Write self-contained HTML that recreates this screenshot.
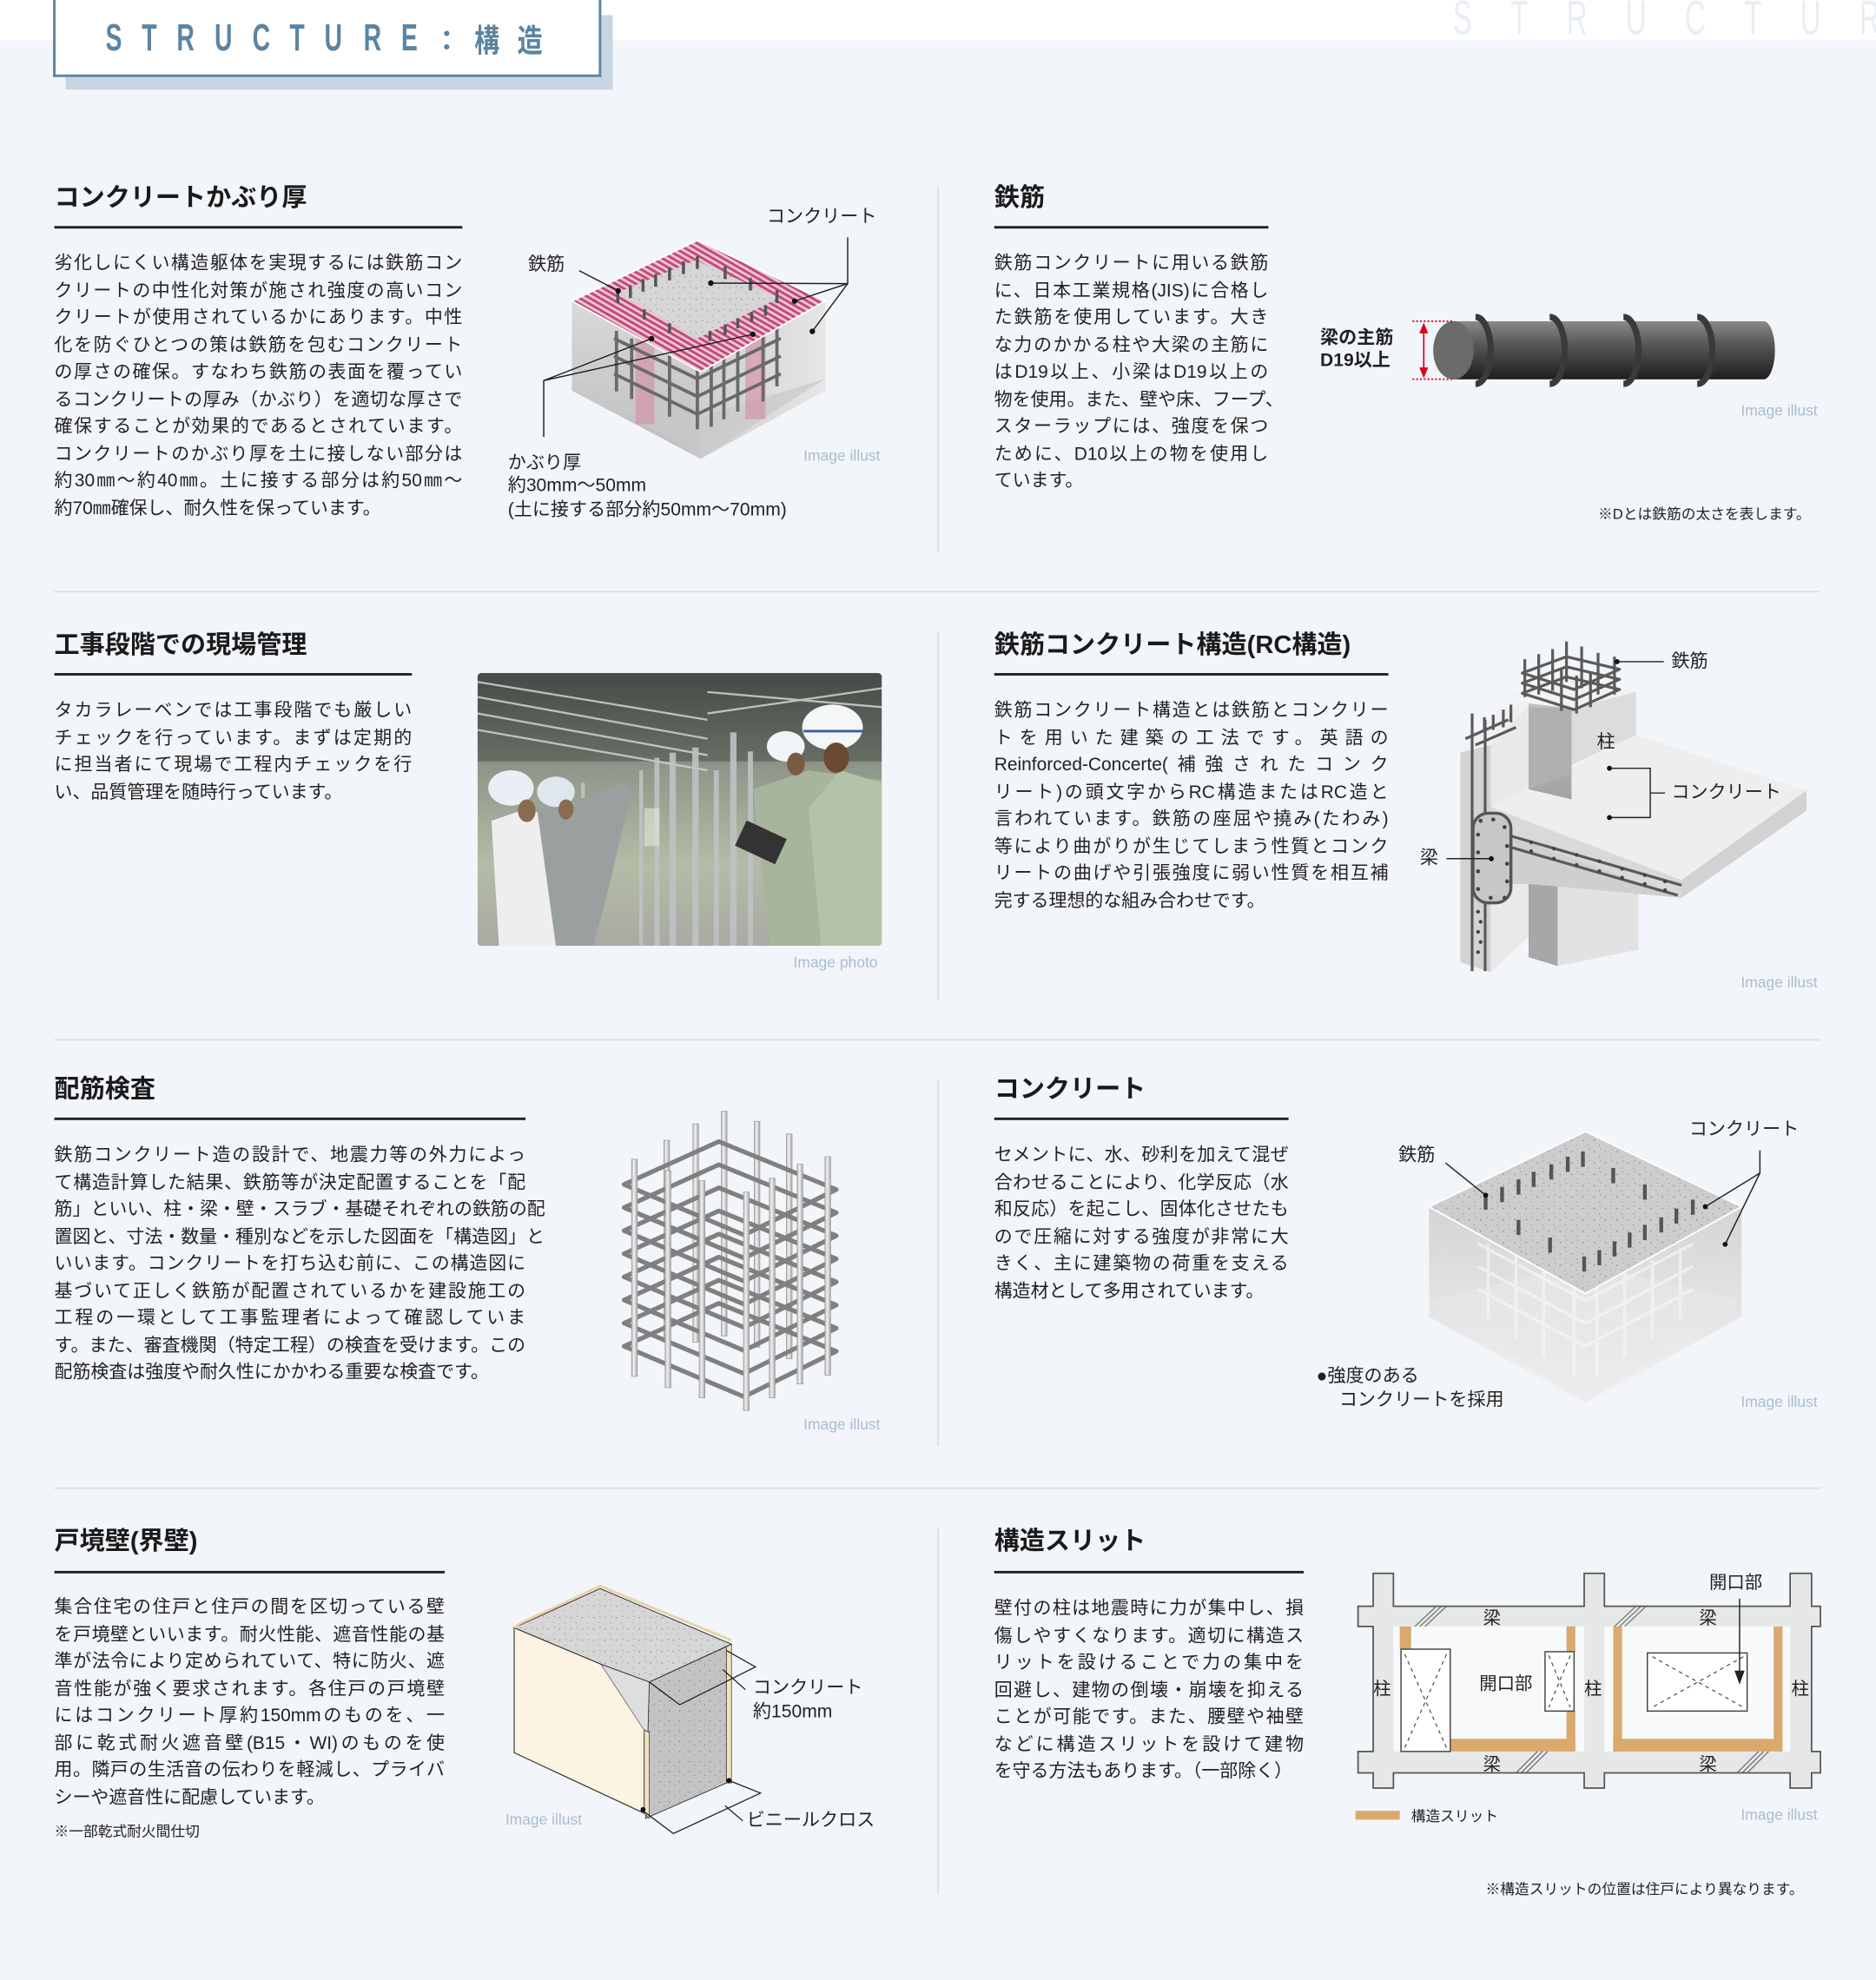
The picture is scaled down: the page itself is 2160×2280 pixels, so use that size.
<!DOCTYPE html>
<html><head><meta charset="utf-8">
<style>
html,body{margin:0;padding:0;background:#f2f5f9;}
body{width:2160px;height:2280px;overflow:hidden;position:relative;}
#stage{position:absolute;left:0;top:0;width:1485px;height:1568px;transform:scale(1.45455,1.4541);transform-origin:0 0;background:#f2f5f9;font-family:"Liberation Sans","Noto Sans CJK JP",sans-serif;color:#222;}
.abs{position:absolute;}
.h{position:absolute;font-size:20px;font-weight:bold;line-height:24px;white-space:nowrap;color:#1a1a1a;}
.ul{position:absolute;height:2px;background:#222;}
.tx{position:absolute;font-size:14.4px;line-height:21.5px;color:#222;}
.tx div{white-space:nowrap;text-align:justify;text-align-last:justify;}
.tx div.l{text-align-last:left;}
.lab{position:absolute;font-size:14.5px;line-height:19px;white-space:nowrap;color:#222;z-index:3;}
.ii{position:absolute;font-size:12px;color:#a9bdd0;white-space:nowrap;z-index:3;}
.note{position:absolute;font-size:11.5px;white-space:nowrap;color:#222;z-index:3;}
.vd{position:absolute;left:742px;width:1px;background:#d3dbe4;}
.hd{position:absolute;left:43px;width:1398px;height:1px;background:#d6dde5;}
svg.abs{z-index:1;}
</style></head><body><div id="stage">
<div class="abs" style="left:0;top:0;width:1485px;height:32px;background:#fff;"></div>
<div class="abs" style="left:1150px;top:-4px;height:38px;display:flex;justify-content:space-between;font-size:38px;line-height:38px;color:#e9eef4;font-family:'Liberation Sans',sans-serif;transform:scaleX(0.6);transform-origin:0 0;width:640px;">
<span>S</span><span>T</span><span>R</span><span>U</span><span>C</span><span>T</span><span>U</span><span>R</span><span>E</span></div>
<div class="abs" style="left:52px;top:12px;width:433px;height:59px;background:#c8d5e1;"></div>
<div class="abs" style="left:42px;top:0;width:430px;height:59px;background:#fff;border:2px solid #5b84a3;border-top:none;"></div>
<div class="abs" style="left:80px;top:12px;width:352px;height:38px;display:flex;justify-content:space-between;align-items:center;font-size:30px;font-weight:bold;color:#5b84a3;">
<span style="display:inline-block;transform:scaleX(0.65)">S</span><span style="display:inline-block;transform:scaleX(0.65)">T</span><span style="display:inline-block;transform:scaleX(0.65)">R</span><span style="display:inline-block;transform:scaleX(0.65)">U</span><span style="display:inline-block;transform:scaleX(0.65)">C</span><span style="display:inline-block;transform:scaleX(0.65)">T</span><span style="display:inline-block;transform:scaleX(0.65)">U</span><span style="display:inline-block;transform:scaleX(0.65)">R</span><span style="display:inline-block;transform:scaleX(0.65)">E</span><span style="font-size:22px">：</span><span style="font-size:25px;display:inline-block;transform:scaleX(0.8)">構</span><span style="font-size:25px;display:inline-block;transform:scaleX(0.8)">造</span></div>

<div class="vd" style="top:148px;height:290px"></div>
<div class="vd" style="top:500px;height:292px"></div>
<div class="vd" style="top:855px;height:290px"></div>
<div class="vd" style="top:1210px;height:290px"></div>
<div class="hd" style="top:468px"></div>
<div class="hd" style="top:823px"></div>
<div class="hd" style="top:1178px"></div>

<div class="h" style="left:43px;top:145px">コンクリートかぶり厚</div>
<div class="ul" style="left:43px;top:179px;width:323px"></div>
<div class="tx" style="left:43px;top:199px;width:323px">
<div>劣化しにくい構造躯体を実現するには鉄筋コン</div>
<div>クリートの中性化対策が施され強度の高いコン</div>
<div>クリートが使用されているかにあります。中性</div>
<div>化を防ぐひとつの策は鉄筋を包むコンクリート</div>
<div>の厚さの確保。すなわち鉄筋の表面を覆ってい</div>
<div>るコンクリートの厚み（かぶり）を適切な厚さで</div>
<div>確保することが効果的であるとされています。</div>
<div>コンクリートのかぶり厚を土に接しない部分は</div>
<div>約30㎜〜約40㎜。土に接する部分は約50㎜〜</div>
<div class="l">約70㎜確保し、耐久性を保っています。</div>
</div>
<div class="lab" style="left:607px;top:163px">コンクリート</div>
<div class="lab" style="left:418px;top:201px">鉄筋</div>
<div class="lab" style="left:402px;top:358px">かぶり厚</div>
<div class="lab" style="left:402px;top:376px">約30mm〜50mm</div>
<div class="lab" style="left:402px;top:395px">(土に接する部分約50mm〜70mm)</div>
<div class="ii" style="left:636px;top:354px">Image illust</div>

<div class="h" style="left:787px;top:145px">鉄筋</div>
<div class="ul" style="left:787px;top:179px;width:217px"></div>
<div class="tx" style="left:787px;top:199px;width:217px">
<div>鉄筋コンクリートに用いる鉄筋</div>
<div>に、日本工業規格(JIS)に合格し</div>
<div>た鉄筋を使用しています。大き</div>
<div>な力のかかる柱や大梁の主筋に</div>
<div>はD19以上、小梁はD19以上の</div>
<div>物を使用。また、壁や床、フープ、</div>
<div>スターラップには、強度を保つ</div>
<div>ために、D10以上の物を使用し</div>
<div class="l">ています。</div>
</div>
<div class="lab" style="left:1045px;top:259px;font-weight:bold;line-height:18px">梁の主筋<br>D19以上</div>
<div class="ii" style="left:1378px;top:318px">Image illust</div>
<div class="note" style="left:1265px;top:399px">※Dとは鉄筋の太さを表します。</div>

<div class="h" style="left:43px;top:499px">工事段階での現場管理</div>
<div class="ul" style="left:43px;top:533px;width:283px"></div>
<div class="tx" style="left:43px;top:553px;width:283px">
<div>タカラレーベンでは工事段階でも厳しい</div>
<div>チェックを行っています。まずは定期的</div>
<div>に担当者にて現場で工程内チェックを行</div>
<div class="l">い、品質管理を随時行っています。</div>
</div>
<div class="ii" style="left:628px;top:755px">Image photo</div>

<div class="h" style="left:787px;top:499px">鉄筋コンクリート構造(RC構造)</div>
<div class="ul" style="left:787px;top:533px;width:312px"></div>
<div class="tx" style="left:787px;top:553px;width:312px">
<div>鉄筋コンクリート構造とは鉄筋とコンクリー</div>
<div>トを用いた建築の工法です。英語の</div>
<div>Reinforced-Concerte(補強されたコンク</div>
<div>リート)の頭文字からRC構造またはRC造と</div>
<div>言われています。鉄筋の座屈や撓み(たわみ)</div>
<div>等により曲がりが生じてしまう性質とコンク</div>
<div>リートの曲げや引張強度に弱い性質を相互補</div>
<div class="l">完する理想的な組み合わせです。</div>
</div>
<div class="lab" style="left:1323px;top:515px">鉄筋</div>
<div class="lab" style="left:1264px;top:579px">柱</div>
<div class="lab" style="left:1323px;top:619px">コンクリート</div>
<div class="lab" style="left:1124px;top:671px">梁</div>
<div class="ii" style="left:1378px;top:771px">Image illust</div>

<div class="h" style="left:43px;top:851px">配筋検査</div>
<div class="ul" style="left:43px;top:885px;width:373px"></div>
<div class="tx" style="left:43px;top:905px;width:373px">
<div>鉄筋コンクリート造の設計で、地震力等の外力によっ</div>
<div>て構造計算した結果、鉄筋等が決定配置することを「配</div>
<div>筋」といい、柱・梁・壁・スラブ・基礎それぞれの鉄筋の配</div>
<div>置図と、寸法・数量・種別などを示した図面を「構造図」と</div>
<div>いいます。コンクリートを打ち込む前に、この構造図に</div>
<div>基づいて正しく鉄筋が配置されているかを建設施工の</div>
<div>工程の一環として工事監理者によって確認していま</div>
<div>す。また、審査機関（特定工程）の検査を受けます。この</div>
<div class="l">配筋検査は強度や耐久性にかかわる重要な検査です。</div>
</div>
<div class="ii" style="left:636px;top:1121px">Image illust</div>

<div class="h" style="left:787px;top:851px">コンクリート</div>
<div class="ul" style="left:787px;top:885px;width:233px"></div>
<div class="tx" style="left:787px;top:905px;width:233px">
<div>セメントに、水、砂利を加えて混ぜ</div>
<div>合わせることにより、化学反応（水</div>
<div>和反応）を起こし、固体化させたも</div>
<div>ので圧縮に対する強度が非常に大</div>
<div>きく、主に建築物の荷重を支える</div>
<div class="l">構造材として多用されています。</div>
</div>
<div class="lab" style="left:1107px;top:906px">鉄筋</div>
<div class="lab" style="left:1337px;top:886px">コンクリート</div>
<div class="lab" style="left:1042px;top:1081px">●強度のある</div>
<div class="lab" style="left:1060px;top:1100px">コンクリートを採用</div>
<div class="ii" style="left:1378px;top:1103px">Image illust</div>

<div class="h" style="left:43px;top:1209px">戸境壁(界壁)</div>
<div class="ul" style="left:43px;top:1244px;width:309px"></div>
<div class="tx" style="left:43px;top:1263px;width:309px">
<div>集合住宅の住戸と住戸の間を区切っている壁</div>
<div>を戸境壁といいます。耐火性能、遮音性能の基</div>
<div>準が法令により定められていて、特に防火、遮</div>
<div>音性能が強く要求されます。各住戸の戸境壁</div>
<div>にはコンクリート厚約150mmのものを、一</div>
<div>部に乾式耐火遮音壁(B15・WI)のものを使</div>
<div>用。隣戸の生活音の伝わりを軽減し、プライバ</div>
<div class="l">シーや遮音性に配慮しています。</div>
</div>
<div class="note" style="left:43px;top:1442px">※一部乾式耐火間仕切</div>
<div class="lab" style="left:596px;top:1328px">コンクリート</div>
<div class="lab" style="left:596px;top:1347px">約150mm</div>
<div class="lab" style="left:591px;top:1433px">ビニールクロス</div>
<div class="ii" style="left:400px;top:1434px">Image illust</div>

<div class="h" style="left:787px;top:1209px">構造スリット</div>
<div class="ul" style="left:787px;top:1244px;width:245px"></div>
<div class="tx" style="left:787px;top:1264px;width:245px">
<div>壁付の柱は地震時に力が集中し、損</div>
<div>傷しやすくなります。適切に構造ス</div>
<div>リットを設けることで力の集中を</div>
<div>回避し、建物の倒壊・崩壊を抑える</div>
<div>ことが可能です。また、腰壁や袖壁</div>
<div>などに構造スリットを設けて建物</div>
<div class="l">を守る方法もあります。（一部除く）</div>
</div>
<div class="note" style="left:1117px;top:1430px">構造スリット</div>
<div class="ii" style="left:1378px;top:1430px">Image illust</div>
<div class="note" style="left:1176px;top:1488px">※構造スリットの位置は住戸により異なります。</div>

<svg class="abs" style="left:0;top:0" width="1485" height="1568" viewBox="0 0 1485 1568" font-family="Liberation Sans, Noto Sans CJK JP, sans-serif">
<defs>
<pattern id="hatch" width="4" height="4" patternUnits="userSpaceOnUse" patternTransform="rotate(-60)">
<rect width="4" height="4" fill="#e9c6d3"/><rect width="2" height="4" fill="#c4487a"/></pattern>
<pattern id="spk" width="9" height="9" patternUnits="userSpaceOnUse">
<rect width="9" height="9" fill="#d6d6d6"/><circle cx="2" cy="3" r="0.6" fill="#999"/><circle cx="6" cy="7" r="0.5" fill="#aaa"/><circle cx="7" cy="2" r="0.4" fill="#888"/></pattern>
<pattern id="spk2" width="9" height="9" patternUnits="userSpaceOnUse">
<rect width="9" height="9" fill="#cdcdcd"/><circle cx="2" cy="3" r="0.6" fill="#8c8c8c"/><circle cx="6" cy="7" r="0.5" fill="#999"/><circle cx="7" cy="1" r="0.4" fill="#888"/></pattern>
<pattern id="spk3" width="8" height="8" patternUnits="userSpaceOnUse">
<rect width="8" height="8" fill="#c3c3c3"/><circle cx="2" cy="3" r="0.5" fill="#777"/><circle cx="6" cy="6" r="0.4" fill="#888"/></pattern>
<linearGradient id="sideL" x1="0" y1="0" x2="0" y2="1"><stop offset="0" stop-color="#d9d9d9"/><stop offset="1" stop-color="#bdbdbd"/></linearGradient>
<linearGradient id="sideR" x1="0" y1="0" x2="1" y2="0"><stop offset="0" stop-color="#cfcfcf"/><stop offset="1" stop-color="#e6e6e6"/></linearGradient>
<linearGradient id="bar" x1="0" y1="0" x2="0" y2="1"><stop offset="0" stop-color="#8a8a8a"/><stop offset="0.35" stop-color="#5c5c5c"/><stop offset="1" stop-color="#1e1e1e"/></linearGradient>
<linearGradient id="rod" x1="0" y1="0" x2="1" y2="0"><stop offset="0" stop-color="#b5b5b5"/><stop offset="0.4" stop-color="#f2f2f2"/><stop offset="1" stop-color="#a5a5a5"/></linearGradient>
<linearGradient id="fade" x1="0" y1="0" x2="0" y2="1"><stop offset="0" stop-color="#d4d4d4"/><stop offset="1" stop-color="#f3f3f3"/></linearGradient>
<linearGradient id="photo" x1="0" y1="0" x2="0" y2="1"><stop offset="0" stop-color="#3e4540"/><stop offset="0.35" stop-color="#8e978a"/><stop offset="0.7" stop-color="#b4bca6"/><stop offset="1" stop-color="#a9aaa4"/></linearGradient>
<linearGradient id="colL" x1="0" y1="0" x2="0" y2="1"><stop offset="0" stop-color="#c2c2c2"/><stop offset="1" stop-color="#a3a3a3"/></linearGradient>
</defs>

<polygon points="452.7,238.4 554.6,294.5 554.6,363.3 452.7,309.4" fill="url(#sideL)"/>
<polygon points="554.6,294.5 653.2,238.4 653.2,309.4 554.6,363.3" fill="url(#sideR)"/>
<polygon points="452.7,300 554.6,330 653.2,300 554.6,363.3" fill="#c9c9c9" opacity="0.7"/>
<rect x="503" y="268" width="15" height="68" fill="#d58aa7" opacity="0.6"/>
<rect x="590" y="264" width="16" height="68" fill="#d58aa7" opacity="0.6"/>
<g stroke="#6a6a6a" stroke-width="2.6" fill="none">
<polyline points="486,268 552,300 618,268" /><polyline points="486,282 552,314 618,282"/><polyline points="486,296 552,328 618,296"/>
<line x1="488" y1="262" x2="488" y2="310"/><line x1="500" y1="268" x2="500" y2="316"/><line x1="530" y1="270" x2="530" y2="330"/><line x1="552" y1="270" x2="552" y2="340"/><line x1="563" y1="268" x2="563" y2="338"/><line x1="573" y1="262" x2="573" y2="332"/><line x1="584" y1="258" x2="584" y2="326"/><line x1="604" y1="258" x2="604" y2="318"/><line x1="615" y1="252" x2="615" y2="306"/>
</g>
<polygon points="552.3,190.2 653.2,238.4 554.6,294.5 452.7,238.4" fill="url(#hatch)" stroke="#fff" stroke-width="1.2" stroke-linejoin="round"/>
<polygon points="551,206 616.5,236 552,268 489,231.5" fill="url(#spk)"/>
<g stroke="#555" stroke-width="2.4">
<line x1="489" y1="230" x2="489" y2="240"/><line x1="499" y1="226" x2="499" y2="236"/><line x1="509" y1="221" x2="509" y2="231"/><line x1="519" y1="217" x2="519" y2="227"/><line x1="530" y1="212" x2="530" y2="222"/><line x1="541" y1="207" x2="541" y2="217"/><line x1="552" y1="203" x2="552" y2="213"/><line x1="574" y1="211" x2="574" y2="221"/><line x1="594" y1="220" x2="594" y2="230"/><line x1="615" y1="230" x2="615" y2="240"/>
<line x1="510" y1="245" x2="510" y2="253"/><line x1="530" y1="256" x2="530" y2="264"/><line x1="562" y1="262" x2="562" y2="270"/><line x1="574" y1="257" x2="574" y2="265"/><line x1="584" y1="252" x2="584" y2="260"/><line x1="595" y1="247" x2="595" y2="255"/><line x1="606" y1="242" x2="606" y2="250"/>
</g>
<g stroke="#222" stroke-width="1" fill="none">
<polyline points="671,188 671,224.6 562.7,224.2"/><line x1="671" y1="224.6" x2="629" y2="238.4"/><line x1="671" y1="224.6" x2="643" y2="262.4"/>
<line x1="458.4" y1="214.3" x2="489.3" y2="230.3"/>
<polyline points="430.4,346 430.4,301.4 515.7,268.2"/><line x1="430.4" y1="301.4" x2="595.9" y2="264.7"/>
</g>
<g fill="#111"><circle cx="562.7" cy="224.2" r="2.2"/><circle cx="629" cy="238.4" r="2.2"/><circle cx="643" cy="262.4" r="2.2"/><circle cx="489.3" cy="230.3" r="2.2"/><circle cx="515.7" cy="268.2" r="2.2"/><circle cx="595.9" cy="264.7" r="2.2"/></g>

<rect x="1150" y="254.4" width="246" height="46" fill="url(#bar)"/>
<ellipse cx="1396" cy="277.4" rx="9" ry="23" fill="url(#bar)"/>
<g fill="none" stroke="#3a3a3a" stroke-width="5">
<path d="M1168 251 a12 26.5 0 0 1 0 53"/>
<path d="M1226.7 251 a12 26.5 0 0 1 0 53"/>
<path d="M1285.1 251 a12 26.5 0 0 1 0 53"/>
<path d="M1343.5 251 a12 26.5 0 0 1 0 53"/>
</g>
<ellipse cx="1150.5" cy="277.4" rx="16" ry="23" fill="#6b6b6b"/>
<g stroke="#e0001a" stroke-width="1.2">
<line x1="1118" y1="254.4" x2="1150" y2="254.4" stroke-dasharray="1.5 1.5"/><line x1="1118" y1="300.3" x2="1150" y2="300.3" stroke-dasharray="1.5 1.5"/>
<line x1="1127" y1="260" x2="1127" y2="295"/></g>
<polygon points="1127,255.5 1123.5,264 1130.5,264" fill="#e0001a"/><polygon points="1127,299.5 1123.5,291 1130.5,291" fill="#e0001a"/>

<g>
<clipPath id="pc"><rect x="378" y="533" width="320" height="216" rx="3"/></clipPath>
<g clip-path="url(#pc)">
<rect x="378" y="533" width="320" height="216" fill="url(#photo)"/>
<rect x="378" y="533" width="320" height="70" fill="#4b524c" opacity="0.55"/>
<g stroke="#cfd3d2" stroke-width="1.6" opacity="0.85">
<line x1="378" y1="540" x2="560" y2="570"/><line x1="378" y1="552" x2="560" y2="585"/><line x1="378" y1="565" x2="560" y2="598"/><line x1="378" y1="578" x2="560" y2="610"/><line x1="560" y1="548" x2="698" y2="560"/><line x1="560" y1="565" x2="698" y2="545"/>
</g>
<g fill="#bfc3c3" opacity="0.9">
<rect x="518" y="600" width="4" height="149"/><rect x="530" y="596" width="5" height="153"/><rect x="548" y="592" width="5" height="157"/><rect x="565" y="610" width="4" height="139"/><rect x="578" y="580" width="5" height="169"/><rect x="592" y="595" width="4" height="154"/><rect x="506" y="610" width="3" height="139"/><rect x="460" y="620" width="3" height="129"/>
</g>
<rect x="510" y="640" width="12" height="30" fill="#e6ead8" opacity="0.6"/>
<polygon points="389,650 418,640 462,660 470,749 395,749" fill="#eeeeee"/>
<polygon points="425,640 470,630 493,620 500,625 485,690 470,749 440,749" fill="#9aa09f"/>
<polygon points="596,625 640,610 698,618 698,749 610,749" fill="#a6b59c"/>
<polygon points="640,640 665,610 698,620 698,749 650,749" fill="#b3c3a8"/>
<rect x="585" y="655" width="35" height="22" fill="#333" transform="rotate(25 600 666)"/>
<ellipse cx="404.5" cy="624" rx="18" ry="14" fill="#e9eff4"/>
<ellipse cx="440" cy="627" rx="15" ry="12" fill="#dfe6ec"/>
<ellipse cx="622" cy="591" rx="15" ry="12" fill="#f2f5f7"/>
<ellipse cx="659" cy="576" rx="24" ry="18" fill="#f4f6f8"/>
<rect x="636" y="578" width="48" height="2" fill="#3d5ea0"/>
<ellipse cx="448" cy="641" rx="6" ry="8" fill="#8a6a50"/><ellipse cx="417" cy="642" rx="7" ry="9" fill="#8a6a50"/>
<ellipse cx="630" cy="605" rx="7" ry="9" fill="#7a5a40"/><ellipse cx="662" cy="600" rx="10" ry="12" fill="#6a4a30"/>
</g></g>

<polygon points="1180,590 1212,556 1212,740 1180,770" fill="#e9e9e9"/>
<polygon points="1156,596 1180,590 1180,770 1156,762" fill="#d3d3d3"/>
<polygon points="1156,596 1188,560 1212,556 1180,590" fill="#f0f0f0"/>
<polygon points="1210,683 1233,688 1233,765 1210,758" fill="#a7a7a7"/>
<polygon points="1233,688 1297,670 1297,752 1233,765" fill="#e2e2e2"/>
<polygon points="1180,639 1295,582 1430,626 1331,697" fill="#eeeeee"/>
<polygon points="1331,697 1430,626 1430,642 1331,711" fill="#d2d2d2"/>
<polygon points="1180,639 1331,697 1331,711 1196,662 1196,700 1180,700" fill="#d9d9d9"/>
<polygon points="1196,700 1196,662 1331,711 1210,700" fill="#cfcfcf"/>
<polygon points="1194,550 1247,534 1295,548 1244,561" fill="#f2f2f2"/>
<polygon points="1210,557 1244,561 1244,633 1210,625" fill="url(#colL)"/>
<polygon points="1244,561 1295,548 1295,582 1244,606" fill="#dcdcdc"/>
<polygon points="1210,560 1244,561 1244,612 1210,625" fill="#b0b0b0"/>
<g stroke="#5a5a5a" stroke-width="2.2" fill="none" stroke-linejoin="round">
<polygon points="1205,533 1240,520 1282,530 1246,546"/><polygon points="1205,541 1240,528 1282,538 1246,554"/><polygon points="1205,549 1240,536 1282,546 1246,562"/>
<line x1="1207" y1="522" x2="1207" y2="552"/><line x1="1218" y1="518" x2="1218" y2="550"/><line x1="1229" y1="514" x2="1229" y2="547"/><line x1="1240" y1="508" x2="1240" y2="540"/><line x1="1252" y1="512" x2="1252" y2="545"/><line x1="1265" y1="517" x2="1265" y2="550"/><line x1="1278" y1="520" x2="1278" y2="550"/><line x1="1236" y1="530" x2="1236" y2="563"/><line x1="1248" y1="535" x2="1248" y2="565"/><line x1="1259" y1="532" x2="1259" y2="560"/>
<line x1="1165.3" y1="565" x2="1165.3" y2="769"/><line x1="1175.6" y1="570" x2="1175.6" y2="769"/>
<line x1="1175" y1="568" x2="1175" y2="580"/><line x1="1182" y1="566" x2="1182" y2="578"/><line x1="1190" y1="562" x2="1190" y2="576"/><line x1="1196" y1="558" x2="1196" y2="572"/>
<line x1="1160" y1="585" x2="1194" y2="570"/><line x1="1168" y1="590" x2="1200" y2="576"/>
<line x1="1196" y1="662" x2="1331" y2="701"/><line x1="1196" y1="671" x2="1328" y2="709"/>
</g>
<rect x="1166" y="644" width="30" height="71" rx="12" fill="#c7c7c7" stroke="#555" stroke-width="2.4"/>
<g fill="#444">
<circle cx="1172" cy="650" r="1.6"/><circle cx="1182" cy="649" r="1.6"/><circle cx="1191" cy="655" r="1.6"/><circle cx="1170" cy="661" r="1.6"/><circle cx="1193" cy="670" r="1.6"/><circle cx="1170" cy="675" r="1.6"/><circle cx="1193" cy="684" r="1.6"/><circle cx="1170" cy="690" r="1.6"/><circle cx="1193" cy="698" r="1.6"/><circle cx="1170" cy="704" r="1.6"/><circle cx="1180" cy="711" r="1.6"/><circle cx="1191" cy="711" r="1.6"/>
<circle cx="1212" cy="667" r="1.5"/><circle cx="1230" cy="672" r="1.5"/><circle cx="1248" cy="677" r="1.5"/><circle cx="1266" cy="682" r="1.5"/><circle cx="1284" cy="688" r="1.5"/><circle cx="1302" cy="693" r="1.5"/><circle cx="1318" cy="698" r="1.5"/>
<circle cx="1212" cy="674" r="1.5"/><circle cx="1230" cy="680" r="1.5"/><circle cx="1248" cy="685" r="1.5"/><circle cx="1266" cy="690" r="1.5"/><circle cx="1284" cy="695" r="1.5"/><circle cx="1302" cy="700" r="1.5"/><circle cx="1318" cy="705" r="1.5"/>
<circle cx="1170" cy="722" r="1.5"/><circle cx="1172" cy="730" r="1.5"/><circle cx="1170" cy="738" r="1.5"/><circle cx="1172" cy="746" r="1.5"/><circle cx="1170" cy="754" r="1.5"/>
</g>
<g stroke="#222" stroke-width="1" fill="none">
<line x1="1280" y1="524" x2="1317" y2="524"/>
<polyline points="1274,608.4 1306.3,608.4 1306.3,647.4 1274,647.4"/><line x1="1306.3" y1="628" x2="1318" y2="628"/>
<line x1="1145" y1="680" x2="1180" y2="680"/></g>
<g fill="#111"><circle cx="1280" cy="524" r="2"/><circle cx="1274" cy="608.4" r="2"/><circle cx="1274" cy="647.4" r="2"/><circle cx="1180.5" cy="680" r="2"/></g>

<g fill="url(#rod)" stroke="#9a9a9a" stroke-width="0.5">
<rect x="525.5" y="903" width="4.5" height="160"/><rect x="548.5" y="890" width="4.5" height="173"/><rect x="571" y="880" width="4.5" height="178"/><rect x="597" y="888" width="4.5" height="179"/><rect x="622.5" y="898" width="4.5" height="178"/>
</g>
<g stroke="#808080" stroke-width="3.6" fill="none" stroke-linejoin="round">
<polygon points="494,938 569,904 662,942 589,978"/>
<polygon points="494,956.3 569,922.3 662,960.3 589,996.3"/>
<polygon points="494,974.6 569,940.6 662,978.6 589,1014.6"/>
<polygon points="494,992.9 569,958.9 662,996.9 589,1032.9"/>
<polygon points="494,1011.2 569,977.2 662,1015.2 589,1051.2"/>
<polygon points="494,1029.5 569,995.5 662,1033.5 589,1069.5"/>
<polygon points="494,1047.8 569,1013.8 662,1051.8 589,1087.8"/>
<polygon points="494,1066.1 569,1032.1 662,1070.1 589,1106.1"/>
</g>
<g fill="url(#rod)" stroke="#9a9a9a" stroke-width="0.5">
<rect x="500" y="918" width="4.5" height="172"/><rect x="526.5" y="927" width="4.5" height="172"/><rect x="553.5" y="935" width="4.5" height="172"/><rect x="588.5" y="944" width="4.5" height="173"/><rect x="609" y="933" width="4.5" height="174"/><rect x="631" y="922" width="4.5" height="174"/><rect x="653" y="916" width="4.5" height="173"/>
</g>

<polygon points="1131.2,955.6 1255,1024.4 1255,1111.5 1131.2,1042.7" fill="url(#fade)"/>
<polygon points="1255,1024.4 1378.6,955.6 1378.6,1042.7 1255,1111.5" fill="url(#fade)"/>
<polygon points="1131,1030 1255,1000 1379,1030 1255,1111" fill="#e8e8e8" opacity="0.6"/>
<g stroke="#f6f6f6" stroke-width="2.4" fill="none" opacity="0.7">
<polyline points="1170,985 1255,1030 1340,985"/><polyline points="1170,1003 1255,1048 1340,1003"/><polyline points="1170,1021 1255,1066 1340,1021"/>
<line x1="1178" y1="985" x2="1178" y2="1045"/><line x1="1200" y1="995" x2="1200" y2="1060"/><line x1="1222" y1="1005" x2="1222" y2="1075"/><line x1="1246" y1="1018" x2="1246" y2="1090"/><line x1="1264" y1="1018" x2="1264" y2="1090"/><line x1="1286" y1="1008" x2="1286" y2="1075"/><line x1="1308" y1="998" x2="1308" y2="1060"/><line x1="1330" y1="988" x2="1330" y2="1045"/>
</g>
<polygon points="1255,896 1378.6,955.6 1255,1024.4 1131.2,955.6" fill="url(#spk2)" stroke="#fff" stroke-width="1.3" stroke-linejoin="round"/>
<g stroke="#555" stroke-width="3">
<line x1="1176" y1="946" x2="1176" y2="958"/><line x1="1189" y1="940" x2="1189" y2="952"/><line x1="1202" y1="934" x2="1202" y2="946"/><line x1="1214" y1="928" x2="1214" y2="940"/><line x1="1228" y1="922" x2="1228" y2="934"/><line x1="1241" y1="916" x2="1241" y2="928"/><line x1="1253" y1="912" x2="1253" y2="924"/>
<line x1="1277" y1="925" x2="1277" y2="937"/><line x1="1302" y1="938" x2="1302" y2="950"/><line x1="1340" y1="950" x2="1340" y2="962"/><line x1="1327" y1="957" x2="1327" y2="969"/><line x1="1315" y1="964" x2="1315" y2="976"/><line x1="1302" y1="970" x2="1302" y2="982"/><line x1="1290" y1="976" x2="1290" y2="988"/><line x1="1278" y1="983" x2="1278" y2="995"/><line x1="1266" y1="990" x2="1266" y2="1002"/><line x1="1254" y1="995" x2="1254" y2="1007"/>
<line x1="1202" y1="966" x2="1202" y2="978"/><line x1="1227" y1="980" x2="1227" y2="992"/>
</g>
<g stroke="#222" stroke-width="1" fill="none">
<line x1="1144.3" y1="921" x2="1176" y2="946.5"/>
<polyline points="1393.1,911 1393.1,929 1349.9,955.6"/><line x1="1393.1" y1="929" x2="1365.6" y2="985.4"/></g>
<g fill="#111"><circle cx="1176" cy="946.5" r="2"/><circle cx="1349.9" cy="955.6" r="2"/><circle cx="1365.6" cy="985.4" r="2"/></g>

<polygon points="407,1289 476,1318 510,1370 510,1436 407,1388" fill="#fdf3e2" stroke="#333" stroke-width="0.8"/>
<polygon points="476,1318 514,1332 514,1372 510,1370" fill="#dedede"/>
<polygon points="514,1332 575,1304 575,1412 511,1440" fill="url(#spk3)" stroke="#333" stroke-width="0.6"/>
<polygon points="575,1304 579,1302 579,1412 575,1412" fill="#f3e2c0" stroke="#333" stroke-width="0.5"/>
<polygon points="510,1370 514,1372 514,1440 510,1436" fill="#f3e2c0" stroke="#333" stroke-width="0.5"/>
<polygon points="407,1289 475,1258 579,1302 514,1332 476,1318" fill="url(#spk)" stroke="#333" stroke-width="0.7"/>
<polyline points="407,1289 411,1286 475,1256 579,1299" fill="none" stroke="#e8d3a8" stroke-width="2"/>
<g stroke="#222" stroke-width="0.9" fill="none">
<polyline points="514,1332 538,1350 598,1320 575,1307"/><line x1="572" y1="1322" x2="590" y2="1338"/>
<polyline points="509,1434 533,1452 602,1420 577,1410"/><line x1="574" y1="1430" x2="588" y2="1442"/>
</g>
<g fill="#111"><circle cx="509" cy="1433" r="2"/><circle cx="577" cy="1410" r="2"/></g>

<g fill="#e6e8e8" stroke="#555" stroke-width="1.2">
<path d="M1087,1246 h16 v26 h151 v-26 h16 v26 h147 v-26 h17 v26 h7 v16 h-7 v99 h7 v17 h-7 v12 h-17 v-12 h-147 v12 h-16 v-12 h-151 v12 h-16 v-12 h-12 v-17 h12 v-99 h-12 v-16 h12z"/>
</g>
<rect x="1103" y="1288" width="151" height="99" fill="#f7f9fb"/>
<rect x="1270" y="1288" width="147" height="99" fill="#f7f9fb"/>
<g fill="#d9a96d">
<rect x="1108" y="1288" width="9" height="18"/><rect x="1240" y="1288" width="7" height="20"/><rect x="1240" y="1355" width="7" height="32"/><rect x="1148" y="1377" width="99" height="10"/>
<rect x="1277" y="1288" width="7" height="99"/><rect x="1404" y="1288" width="7" height="99"/><rect x="1277" y="1377" width="134" height="10"/>
</g>
<g fill="#fff" stroke="#444" stroke-width="1">
<rect x="1109" y="1306" width="39" height="81"/><rect x="1223" y="1308" width="23" height="47"/><rect x="1304" y="1309" width="79" height="46"/></g>
<g stroke="#444" stroke-width="0.8" stroke-dasharray="3 3" fill="none">
<line x1="1112" y1="1310" x2="1145" y2="1384"/><line x1="1145" y1="1310" x2="1112" y2="1384"/>
<line x1="1226" y1="1311" x2="1243" y2="1352"/><line x1="1243" y1="1311" x2="1226" y2="1352"/>
<line x1="1308" y1="1312" x2="1380" y2="1352"/><line x1="1380" y1="1312" x2="1308" y2="1352"/></g>
<g stroke="#666" stroke-width="0.8">
<line x1="1120" y1="1288" x2="1137" y2="1272"/><line x1="1124" y1="1288" x2="1141" y2="1272"/><line x1="1128" y1="1288" x2="1145" y2="1272"/>
<line x1="1278" y1="1288" x2="1295" y2="1272"/><line x1="1282" y1="1288" x2="1299" y2="1272"/><line x1="1286" y1="1288" x2="1303" y2="1272"/>
<line x1="1200" y1="1404" x2="1217" y2="1387"/><line x1="1204" y1="1404" x2="1221" y2="1387"/><line x1="1208" y1="1404" x2="1225" y2="1387"/>
<line x1="1375" y1="1404" x2="1392" y2="1387"/><line x1="1379" y1="1404" x2="1396" y2="1387"/><line x1="1383" y1="1404" x2="1400" y2="1387"/></g>
<line x1="1377" y1="1266" x2="1377" y2="1325" stroke="#222" stroke-width="1"/>
<polygon points="1373,1323 1381,1323 1377,1334" fill="#222"/>
<g font-size="14" fill="#222">
<text x="1174" y="1286">梁</text><text x="1345" y="1286">梁</text><text x="1174" y="1402">梁</text><text x="1345" y="1402">梁</text>
<text x="1087" y="1342">柱</text><text x="1254" y="1342">柱</text><text x="1418" y="1342">柱</text>
<text x="1171" y="1338">開口部</text><text x="1353" y="1258">開口部</text></g>
<rect x="1073" y="1434" width="35" height="7" fill="#d9a96d"/>
</svg>
</div></body></html>
